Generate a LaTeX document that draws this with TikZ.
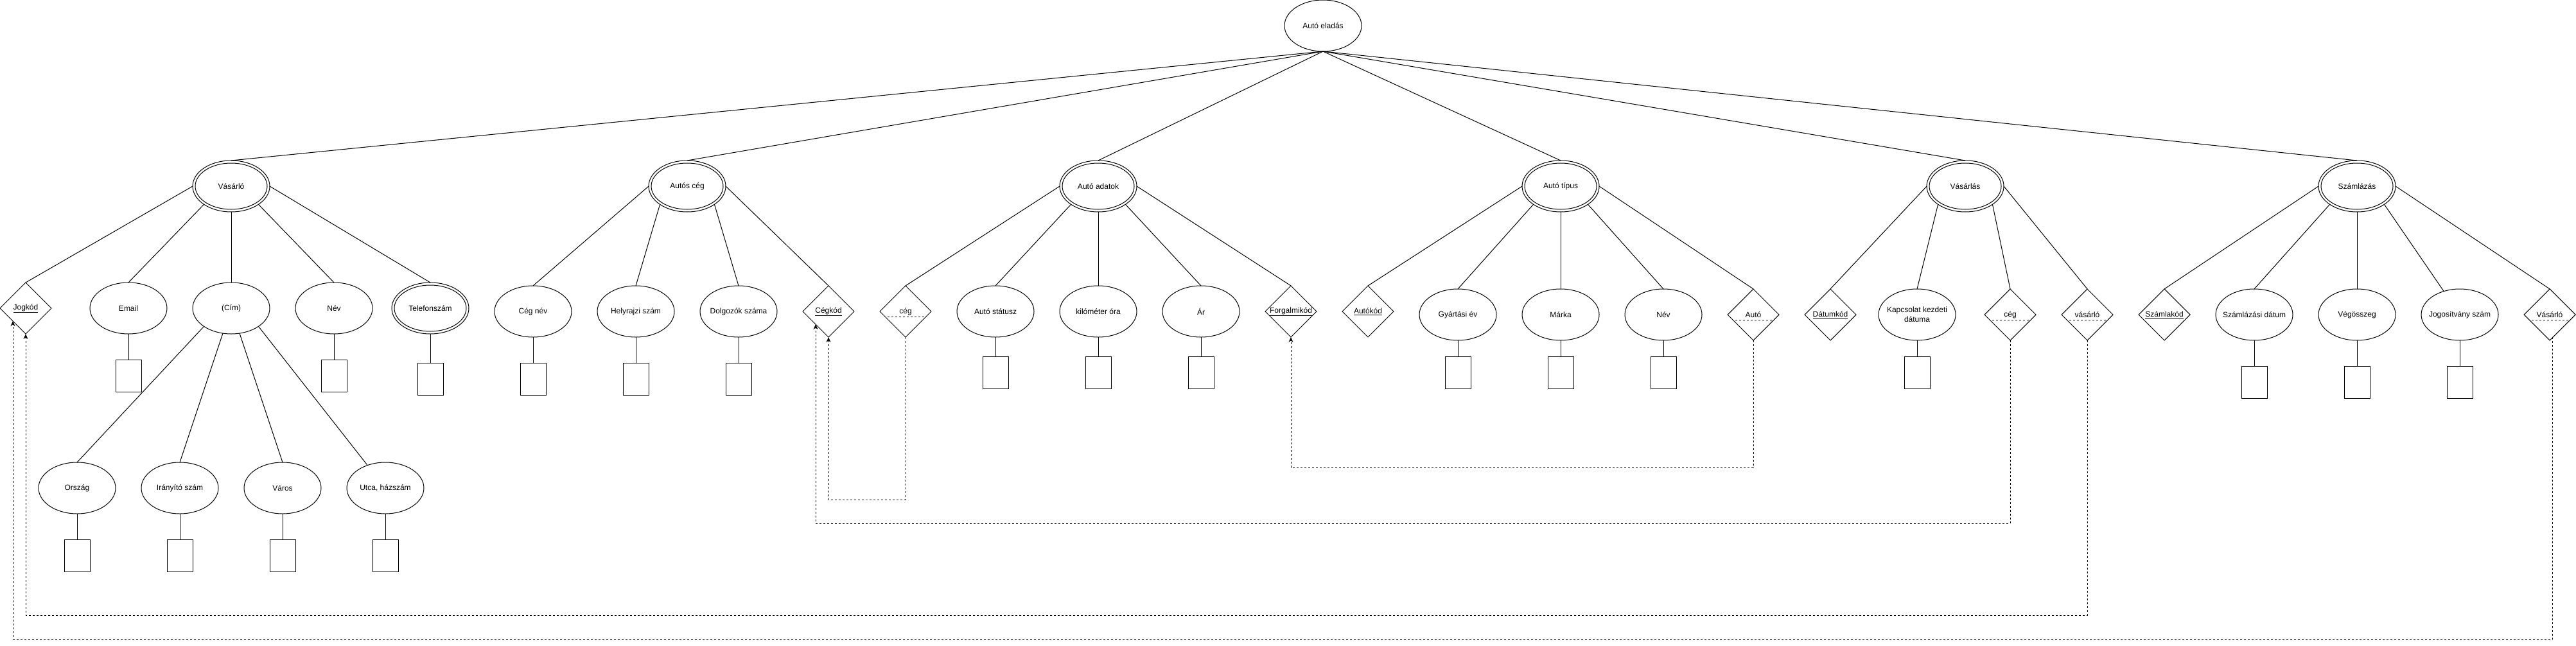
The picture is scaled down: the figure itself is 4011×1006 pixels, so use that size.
\documentclass[tikz,border=0pt]{standalone}
\usepackage{fontspec}
\setmainfont{Liberation Sans}
\usetikzlibrary{shapes.geometric,arrows.meta}

\begin{document}
\begin{tikzpicture}[x=1pt,y=-1pt,
  every node/.style={font=\fontsize{12}{15}\selectfont, inner sep=0pt, outer sep=0pt},
  every label/.style={font=\fontsize{12}{15}\selectfont, inner sep=0pt, align=center},
  conn/.style={line width=1pt},
  attr/.style={ellipse, draw, line width=1pt, minimum width=120pt, minimum height=80pt},
  keyd/.style={diamond, draw, line width=1pt, minimum width=80pt, minimum height=80pt},
  weakd/.style={keyd, path picture={\draw[line width=1pt,dash pattern=on 3pt off 3pt]
      ([yshift=-8pt]path picture bounding box.west) -- ([yshift=-8pt]path picture bounding box.east);}},
  valbox/.style={rectangle, draw, line width=1pt, minimum width=40pt, minimum height=50pt},
  fk/.style={line width=1pt, dash pattern=on 3pt off 3pt, -{Stealth[length=8pt,width=7pt]}},
  inner/.style={line width=1pt},
]
\useasboundingbox (0,0) rectangle (4011,1006);

% root
\node[attr, label={center:Autó eladás}] (eladas) at (2060,40) {};

% entities
\node[attr, label={center:Vásárló}] (vasarlo) at (360,290) {};
\node[attr, label={center:Autós cég}] (autosceg) at (1070,290) {};
\node[attr, label={center:Autó adatok}] (autoadat) at (1710,290) {};
\node[attr, label={center:Autó típus}] (autotipus) at (2430,290) {};
\node[attr, label={center:Vásárlás}] (vasarlas) at (3060,290) {};
\node[attr, label={center:Számlázás}] (szamlazas) at (3670,290) {};

% Vásárló group
\node[keyd, label={center:\underline{Jogkód}}] (jogkod) at (40,480) {};
\node[attr, label={center:Email}] (email) at (200,480) {};
\node[attr, label={center:(Cím)}] (cim) at (360,480) {};
\node[attr, label={center:Név}] (nev1) at (520,480) {};
\node[attr, label={center:Telefonszám}] (telefon) at (670,480) {};
\node[valbox] (emailbox) at (200,585) {};
\node[valbox] (nev1box) at (520,585) {};
\node[valbox] (telefonbox) at (670,590) {};

% Cím parts
\node[attr, label={center:Ország}] (orszag) at (120,760) {};
\node[attr, label={center:Irányító szám}] (iranyito) at (280,760) {};
\node[attr, label={center:Város}] (varos) at (440,760) {};
\node[attr, label={center:{Utca, házszám}}] (utca) at (600,760) {};
\node[valbox] (orszagbox) at (120,865) {};
\node[valbox] (iranyitobox) at (280,865) {};
\node[valbox] (varosbox) at (440,865) {};
\node[valbox] (utcabox) at (600,865) {};

% Autós cég group
\node[attr, label={center:Cég név}] (cegnev) at (830,485) {};
\node[attr, label={center:Helyrajzi szám}] (helyrajzi) at (990,485) {};
\node[attr, label={center:Dolgozók száma}] (dolgozok) at (1150,485) {};
\node[keyd, label={center:\underline{Cégkód}}] (cegkod) at (1290,485) {};
\node[valbox] (cegnevbox) at (830,590) {};
\node[valbox] (helyrajzibox) at (990,590) {};
\node[valbox] (dolgozokbox) at (1150,590) {};

% Autó adatok group
\node[weakd, label={center:cég}] (ceg1) at (1410,485) {};
\node[attr, label={center:Autó státusz}] (statusz) at (1550,485) {};
\node[attr, label={center:kilóméter óra}] (km) at (1710,485) {};
\node[attr, label={center:Ár}] (ar) at (1870,485) {};
\node[keyd, label={center:\underline{Forgalmikód}}] (forgalmi) at (2010,485) {};
\node[valbox] (statuszbox) at (1550,580) {};
\node[valbox] (kmbox) at (1710,580) {};
\node[valbox] (arbox) at (1870,580) {};

% Autó típus group
\node[keyd, label={center:\underline{Autókód}}] (autokod) at (2130,485) {};
\node[attr, label={center:Gyártási év}] (gyartas) at (2270,490) {};
\node[attr, label={center:Márka}] (marka) at (2430,490) {};
\node[attr, label={center:Név}] (nev2) at (2590,490) {};
\node[weakd, label={center:Autó}] (auto) at (2730,490) {};
\node[valbox] (gyartasbox) at (2270,580) {};
\node[valbox] (markabox) at (2430,580) {};
\node[valbox] (nev2box) at (2590,580) {};

% Vásárlás group
\node[keyd, label={center:\underline{Dátumkód}}] (datumkod) at (2850,490) {};
\node[attr, label={center:Kapcsolat kezdeti\\dátuma}] (kapcsolat) at (2985,490) {};
\node[weakd, label={center:cég}] (ceg2) at (3130,490) {};
\node[weakd, label={center:vásárló}] (vasarlo2) at (3250,490) {};
\node[valbox] (kapcsolatbox) at (2985,580) {};

% Számlázás group
\node[keyd, label={center:\underline{Számlakód}}] (szamlakod) at (3370,490) {};
\node[attr, label={center:Számlázási dátum}] (szdatum) at (3510,490) {};
\node[attr, label={center:Végösszeg}] (vegosszeg) at (3670,490) {};
\node[attr, label={center:Jogosítvány szám}] (jogositvany) at (3830,490) {};
\node[weakd, label={center:Vásárló}] (vasarlo3) at (3970,490) {};
\node[valbox] (szdatumbox) at (3510,595) {};
\node[valbox] (vegosszegbox) at (3670,595) {};
\node[valbox] (jogositvanybox) at (3830,595) {};

% inner ellipses of double ellipses
\foreach \n in {vasarlo,autosceg,autoadat,autotipus,vasarlas,szamlazas,telefon}
  \draw[inner] (\n.center) ellipse [x radius=56pt, y radius=36pt];

% root to entities
\foreach \n in {vasarlo,autosceg,autoadat,autotipus,vasarlas,szamlazas}
  \draw[conn] (eladas.south) -- (\n.north);

% Vásárló
\draw[conn] (vasarlo.west) -- (jogkod.north);
\draw[conn] (vasarlo.south west) -- (email.north);
\draw[conn] (vasarlo.south) -- (cim.north);
\draw[conn] (vasarlo.south east) -- (nev1.north);
\draw[conn] (vasarlo.east) -- (telefon.north);
\draw[conn] (cim.south west) -- (orszag.north);
\draw[conn] (cim) -- (iranyito.north);
\draw[conn] (cim) -- (varos.north);
\draw[conn] (cim.south east) -- (utca);

% Autós cég
\draw[conn] (autosceg.west) -- (cegnev.north);
\draw[conn] (autosceg.south west) -- (helyrajzi.north);
\draw[conn] (autosceg.south east) -- (dolgozok.north);
\draw[conn] (autosceg.east) -- (cegkod.north);

% Autó adatok
\draw[conn] (autoadat.west) -- (ceg1.north);
\draw[conn] (autoadat.south west) -- (statusz.north);
\draw[conn] (autoadat.south) -- (km.north);
\draw[conn] (autoadat.south east) -- (ar.north);
\draw[conn] (autoadat.east) -- (forgalmi.north);

% Autó típus
\draw[conn] (autotipus.west) -- (autokod.north);
\draw[conn] (autotipus.south west) -- (gyartas.north);
\draw[conn] (autotipus.south) -- (marka.north);
\draw[conn] (autotipus.south east) -- (nev2.north);
\draw[conn] (autotipus.east) -- (auto.north);

% Vásárlás
\draw[conn] (vasarlas.west) -- (datumkod.north);
\draw[conn] (vasarlas.south west) -- (kapcsolat.north);
\draw[conn] (vasarlas.south east) -- (ceg2.north);
\draw[conn] (vasarlas.east) -- (vasarlo2.north);

% Számlázás
\draw[conn] (szamlazas.west) -- (szamlakod.north);
\draw[conn] (szamlazas.south west) -- (szdatum.north);
\draw[conn] (szamlazas.south) -- (vegosszeg.north);
\draw[conn] (szamlazas.south east) -- (jogositvany);
\draw[conn] (szamlazas.east) -- (vasarlo3.north);

% attribute to value boxes
\foreach \n in {email,nev1,telefon,orszag,iranyito,varos,utca,cegnev,helyrajzi,dolgozok,statusz,km,ar,gyartas,marka,nev2,kapcsolat,szdatum,vegosszeg,jogositvany}
  \draw[conn] (\n.south) -- (\n box.north);

% dashed references
\coordinate (r1) at (1350,778);
\coordinate (r2) at (2000,815);
\coordinate (r3) at (2400,728);
\coordinate (r4) at (1500,958);
\coordinate (r5) at (2000,995);
\draw[fk] (ceg1.south) |- (r1) -| (cegkod.south);
\draw[fk] (ceg2.south) |- (r2) -| (cegkod.south west);
\draw[fk] (auto.south) |- (r3) -| (forgalmi.south);
\draw[fk] (vasarlo2.south) |- (r4) -| (jogkod.south);
\draw[fk] (vasarlo3.-82) |- (r5) -| (jogkod.south west);
\end{tikzpicture}
\end{document}
